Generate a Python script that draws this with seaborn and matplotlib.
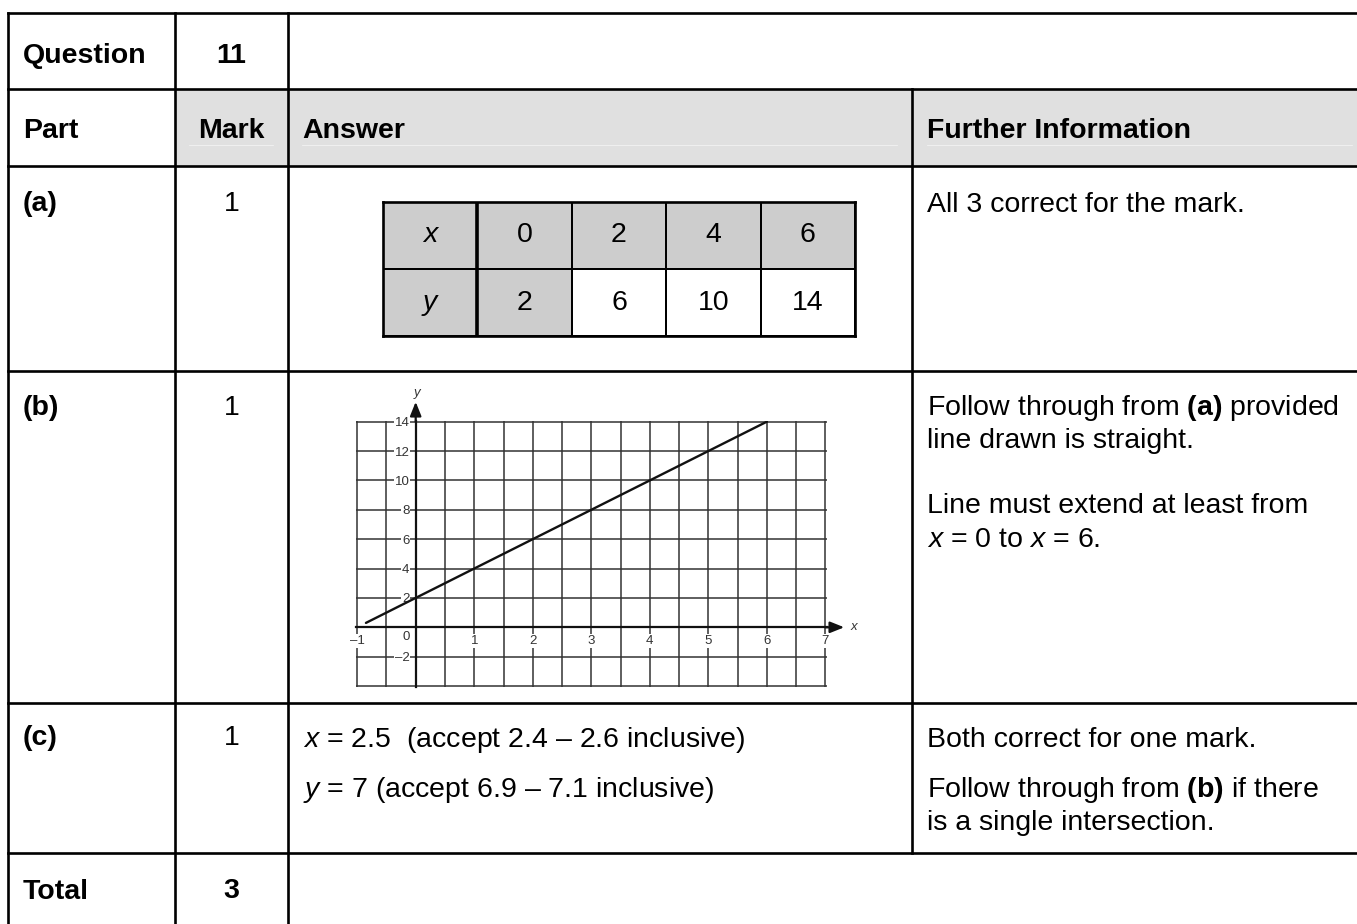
import numpy as np
import pandas as pd
import matplotlib
matplotlib.use("Agg")
import matplotlib.pyplot as plt
import seaborn as sns
from matplotlib.colors import ListedColormap
from matplotlib.patches import Rectangle
from matplotlib.ticker import FixedLocator, FixedFormatter

# ---------------- data ----------------
question_label = "Question"
question_number = "11"
header_labels = ["Part", "Mark", "Answer", "Further Information"]
parts = ["(a)", "(b)", "(c)"]
marks = ["1", "1", "1"]
total_label = "Total"
total_mark = "3"

table_row_names = ["x", "y"]
table_x_values = [0, 2, 4, 6]
table_y_values = [2, 6, 10, 14]
table_shaded = [[1, 1, 1, 1, 1], [1, 1, 0, 0, 0]]

line_x = [-0.85, 6]
line_y = [0.3, 14]

x_tick_values = [-1, 1, 2, 3, 4, 5, 6, 7]
y_tick_values = [-2, 2, 4, 6, 8, 10, 12, 14]

further_a = ["All 3 correct for the mark."]
further_b = ["Follow through from $\\mathbf{(a)}$ provided", "line drawn is straight.",
             "Line must extend at least from", "$x$ = 0 to $x$ = 6."]
answer_c = ["$x$ = 2.5  (accept 2.4 \u2013 2.6 inclusive)",
            "$y$ = 7 (accept 6.9 \u2013 7.1 inclusive)"]
further_c = ["Both correct for one mark.",
             "Follow through from $\\mathbf{(b)}$ if there", "is a single intersection."]

# ---------------- style ----------------
sns.set_theme(style="white")
plt.rcParams["font.family"] = ["Liberation Sans", "DejaVu Sans"]
plt.rcParams["text.color"] = "black"
plt.rcParams["mathtext.fontset"] = "custom"
plt.rcParams["mathtext.rm"] = "Liberation Sans"
plt.rcParams["mathtext.it"] = "Liberation Sans:italic"
plt.rcParams["mathtext.bf"] = "Liberation Sans:bold"

W, H = 1357, 924
fig = plt.figure(figsize=(W / 100, H / 100), dpi=100)
fig.patch.set_facecolor("white")

bg = fig.add_axes([0, 0, 1, 1])
bg.set_xlim(0, W)
bg.set_ylim(H, 0)
bg.axis("off")

fs = 20.5
lw_t = 1.9
tc = "black"

# header shading
bg.add_patch(Rectangle((175, 89), W - 175, 77, facecolor="#e0e0e0", edgecolor="none", zorder=0))
for x0, x1 in [(189, 273), (302, 897), (927, 1352)]:
    bg.plot([x0, x1], [145, 145], color="#efefef", lw=0.8, zorder=1)

# table lines
for yy in [13, 89, 166, 371, 703, 853]:
    bg.plot([8, W + 5], [yy, yy], color="black", lw=lw_t, solid_capstyle="projecting", zorder=2)
for xx in [8, 175, 288]:
    bg.plot([xx, xx], [13, H + 5], color="black", lw=lw_t, solid_capstyle="projecting", zorder=2)
bg.plot([912, 912], [89, 853], color="black", lw=lw_t, solid_capstyle="projecting", zorder=2)

mark_cx = 231.5
bg.text(23, 63, question_label, fontsize=fs, fontweight="bold", va="baseline", color=tc)
bg.text(mark_cx, 63, question_number, fontsize=fs, fontweight="bold", va="baseline", ha="center", color=tc)
bg.text(23, 138, header_labels[0], fontsize=fs, fontweight="bold", va="baseline", color=tc)
bg.text(mark_cx, 138, header_labels[1], fontsize=fs, fontweight="bold", va="baseline", ha="center", color=tc)
bg.text(302, 138, header_labels[2], fontsize=fs, fontweight="bold", va="baseline", color=tc)
bg.text(927, 138, header_labels[3], fontsize=fs, fontweight="bold", va="baseline", color=tc)

for p, m, yb in zip(parts, marks, [211, 415, 745]):
    bg.text(23, yb, p, fontsize=fs, fontweight="bold", va="baseline", color=tc)
    bg.text(mark_cx, yb, m, fontsize=fs, va="baseline", ha="center", color=tc)

bg.text(23, 899, total_label, fontsize=fs, fontweight="bold", va="baseline", color=tc)
bg.text(mark_cx, 898, total_mark, fontsize=fs, fontweight="bold", va="baseline", ha="center", color=tc)

for s, yb in zip(further_a, [212]):
    bg.text(927, yb, s, fontsize=fs, va="baseline", color=tc)
for s, yb in zip(further_b, [415, 448, 513, 547]):
    bg.text(927, yb, s, fontsize=fs, va="baseline", color=tc)
for s, yb in zip(answer_c, [747, 797]):
    bg.text(303, yb, s, fontsize=fs, va="baseline", color=tc)
for s, yb in zip(further_c, [747, 797, 830]):
    bg.text(927, yb, s, fontsize=fs, va="baseline", color=tc)

# ---------------- (a) value table as heatmap ----------------
hax = fig.add_axes([383 / W, 1 - 336 / H, (855 - 383) / W, (336 - 202) / H])
annot = np.array([[table_row_names[0]] + [str(v) for v in table_x_values],
                  [table_row_names[1]] + [str(v) for v in table_y_values]])
sns.heatmap(pd.DataFrame(table_shaded), ax=hax, cmap=ListedColormap(["white", "#cdcdcd"]),
            vmin=0, vmax=1, cbar=False, annot=annot, fmt="",
            annot_kws=dict(fontsize=fs, color="black"),
            linewidths=1.4, linecolor="black", xticklabels=False, yticklabels=False)
for t in hax.texts:
    if t.get_text() in table_row_names:
        t.set_style("italic")
for s in hax.spines.values():
    s.set_visible(True)
    s.set_linewidth(1.9)
    s.set_color("black")
hax.axvline(1, color="black", lw=2.6)

# ---------------- (b) graph ----------------
X0, UX = 415.7, 58.54
Y0, UY = 627.3, 14.69
xl = (-1.02, 7.02)
yl = (-4.05, 14.05)
left_px = X0 + xl[0] * UX
right_px = X0 + xl[1] * UX
top_px = Y0 - yl[1] * UY
bot_px = Y0 - yl[0] * UY
gax = fig.add_axes([left_px / W, 1 - bot_px / H, (right_px - left_px) / W, (bot_px - top_px) / H])
gax.set_facecolor("white")

sns.lineplot(x=line_x, y=line_y, ax=gax, color="#111111", linewidth=1.7, zorder=5)

gax.set_xlim(*xl)
gax.set_ylim(*yl)
major_x = list(range(-1, 8))
minor_x = [v + 0.5 for v in range(-1, 7)]
major_y = list(range(-4, 15, 2))
fmt_num = lambda v: str(v).replace("-", "\u2013")
gax.xaxis.set_major_locator(FixedLocator(major_x))
gax.xaxis.set_minor_locator(FixedLocator(minor_x))
gax.xaxis.set_major_formatter(FixedFormatter([fmt_num(v) if v in x_tick_values else "" for v in major_x]))
gax.yaxis.set_major_locator(FixedLocator(major_y))
gax.yaxis.set_major_formatter(FixedFormatter([fmt_num(v) if v in y_tick_values else "" for v in major_y]))

gax.grid(True, which="major", axis="both", color="#333333", lw=1.1)
gax.grid(True, which="minor", axis="x", color="#333333", lw=1.1)
gax.set_axisbelow(True)

for side in ["top", "right"]:
    gax.spines[side].set_visible(False)
gax.spines["left"].set_position(("data", 0))
gax.spines["bottom"].set_position(("data", 0))
for side in ["left", "bottom"]:
    gax.spines[side].set_linewidth(1.6)
    gax.spines[side].set_color("#111111")
    gax.spines[side].set_zorder(4)

lab_fs = 9.5
lab_c = "#333333"
gax.tick_params(axis="both", which="major", direction="inout", length=8, width=1.1,
                color="#222222", labelsize=lab_fs, labelcolor=lab_c)
gax.tick_params(axis="x", which="major", pad=1.5)
gax.tick_params(axis="y", which="major", pad=0.5)
gax.tick_params(axis="x", which="minor", length=0)
for lab in gax.get_xticklabels() + gax.get_yticklabels():
    lab.set_bbox(dict(facecolor="white", edgecolor="none", pad=0.6))

gax.text(-0.17, -0.65, "0", fontsize=lab_fs, color=lab_c, ha="center", va="center")
gax.text(7.42, 0, "x", fontsize=lab_fs, style="italic", color=lab_c, ha="left", va="center")
gax.text(0.02, 15.95, "y", fontsize=lab_fs, style="italic", color=lab_c, ha="center", va="center")
arrow_kw = dict(arrowstyle="-|>,head_length=0.7,head_width=0.28", color="#111111", lw=1.6,
                shrinkA=0, shrinkB=0)
gax.annotate("", xy=(7.32, 0), xytext=(7.0, 0), arrowprops=arrow_kw, annotation_clip=False)
gax.annotate("", xy=(0, 15.35), xytext=(0, 14.0), arrowprops=arrow_kw, annotation_clip=False)
gax.set_xlabel("")
gax.set_ylabel("")

fig.savefig("out.png", dpi=100, facecolor="white")
